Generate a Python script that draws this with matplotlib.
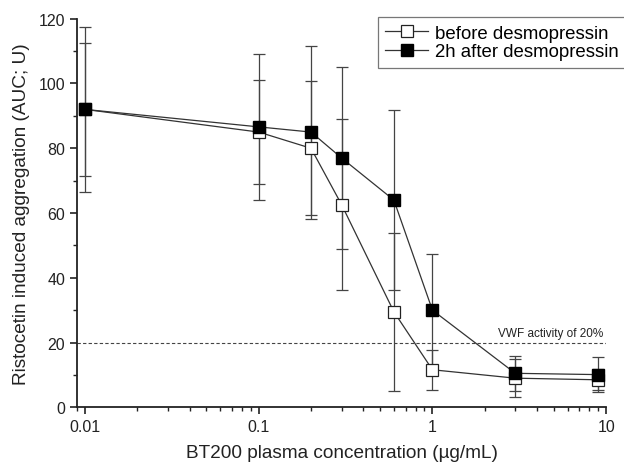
import matplotlib
matplotlib.use("Agg")
import matplotlib.pyplot as plt
from matplotlib.ticker import LogLocator, FixedLocator, NullFormatter, FuncFormatter

plt.rcParams['font.family'] = ['Liberation Sans', 'DejaVu Sans']

conc = [0.01, 0.1, 0.2, 0.3, 0.6, 1, 3, 9]
before = [92, 85, 80, 62.6, 29.5, 11.6, 9.0, 8.5]
before_err = [20.6, 16, 20.7, 26.3, 24.4, 6.2, 5.85, 3.3]
after = [92, 86.6, 85, 77, 64, 30, 10.5, 10.1]
after_err = [25.5, 22.5, 26.7, 28.2, 27.8, 17.4, 5.5, 5.5]

fig = plt.figure(figsize=(6.24, 4.64), dpi=100)
ax = fig.add_axes([0.1234, 0.12, 0.848, 0.8375])

ecol = '#444444'
ax.errorbar(conc, before, yerr=before_err, fmt='none', ecolor=ecol, elinewidth=0.9,
            capsize=4, capthick=0.9, zorder=2)
ax.errorbar(conc, after, yerr=after_err, fmt='none', ecolor=ecol, elinewidth=0.9,
            capsize=4, capthick=0.9, zorder=2)
ax.plot(conc, before, '-s', color='#333333', lw=0.9, markersize=8.3, markerfacecolor='white',
        markeredgecolor='#222222', markeredgewidth=0.9, label='before desmopressin', zorder=3)
ax.plot(conc, after, '-s', color='#333333', lw=0.9, markersize=8.3, markerfacecolor='black',
        markeredgecolor='black', label='2h after desmopressin', zorder=4)

ax.axhline(20, color='#444444', lw=0.8, ls=(0, (3, 2)), zorder=1)
ax.text(9.6, 21.2, 'VWF activity of 20%', fontsize=8.5, ha='right', va='bottom', color='#222222')

ax.set_xscale('log')
ax.set_xlim(0.009, 10)
ax.set_ylim(0, 120)
ax.xaxis.set_major_locator(FixedLocator([0.01, 0.1, 1, 10]))
ax.xaxis.set_major_formatter(FuncFormatter(lambda v, p: f'{v:g}'))
ax.xaxis.set_minor_locator(LogLocator(base=10, subs=range(2, 10)))
ax.xaxis.set_minor_formatter(NullFormatter())
ax.yaxis.set_major_locator(FixedLocator([0, 20, 40, 60, 80, 100, 120]))
ax.yaxis.set_minor_locator(FixedLocator([10, 30, 50, 70, 90, 110]))

for s in ['top', 'right']:
    ax.spines[s].set_visible(False)
for s in ['left', 'bottom']:
    ax.spines[s].set_linewidth(1.3)
    ax.spines[s].set_color('#222222')
ax.tick_params(which='major', direction='out', length=5, width=1.2, labelsize=11.5, colors='#222222')
ax.tick_params(which='minor', direction='out', length=3, width=1.0, colors='#222222')

ax.set_xlabel('BT200 plasma concentration (µg/mL)', fontsize=13.7, color='#222222', labelpad=7)
ax.set_ylabel('Ristocetin induced aggregation (AUC; U)', fontsize=13.7, color='#222222', labelpad=6)

leg = ax.legend(loc='upper right', bbox_to_anchor=(1.003, 0.961), bbox_transform=fig.transFigure,
                borderaxespad=0, fontsize=13.4, frameon=True,
                fancybox=False, edgecolor='#555555', handlelength=2.3, borderpad=0.4,
                labelspacing=0.1, handletextpad=0.35)
leg.get_frame().set_linewidth(0.9)

fig.savefig('out.png', dpi=100)
